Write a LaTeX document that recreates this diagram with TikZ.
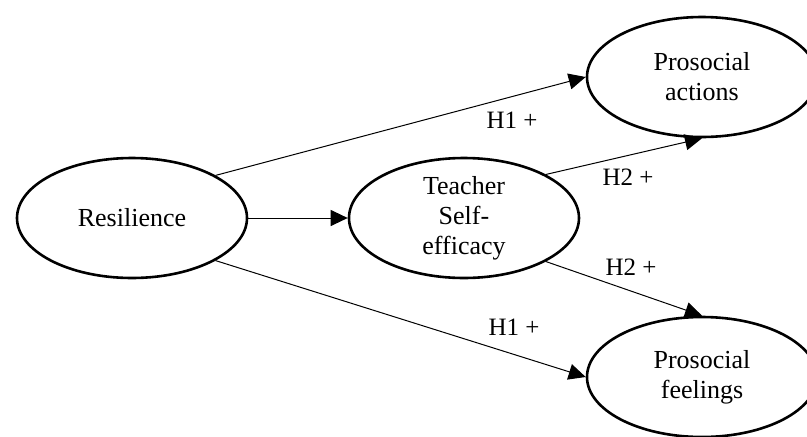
\documentclass[tikz,border=0pt]{standalone}
\usepackage{fontspec}
\setmainfont{Liberation Serif}
\usetikzlibrary{arrows.meta,shapes.geometric}
\begin{document}
\begin{tikzpicture}[x=1pt,y=-1pt,
  construct/.style={ellipse,draw,line width=2.6pt,minimum width=230pt,minimum height=120pt,
    inner sep=0pt,align=center,font=\fontsize{26}{30}\selectfont},
  link/.style={line width=1pt,-{Triangle[length=17pt,width=16pt]}},
  lbl/.style={inner sep=0pt,font=\fontsize{25}{28}\selectfont}]
\useasboundingbox (0,0) rectangle (807,437);
\node[construct] (res) at (132,218) {Resilience};
\node[construct] (tse) at (464,218) {Teacher\\Self-\\efficacy};
\node[construct] (pa) at (702,77) {Prosocial\\actions};
\node[construct] (pf) at (702,377) {Prosocial\\feelings};
\draw[link] (res.27) -- (pa.west);
\draw[link] (res.east) -- (tse.west);
\draw[link] (res.-27) -- (pf.west);
\draw[link] (tse.28) -- (pa.south);
\draw[link] (tse.-28) -- (pf.north);
\node[lbl] (l1) at (512,120) {H1 +};
\node[lbl] (l2) at (628,177) {H2 +};
\node[lbl] (l3) at (631,267) {H2 +};
\node[lbl] (l4) at (514,327) {H1 +};
\end{tikzpicture}
\end{document}
